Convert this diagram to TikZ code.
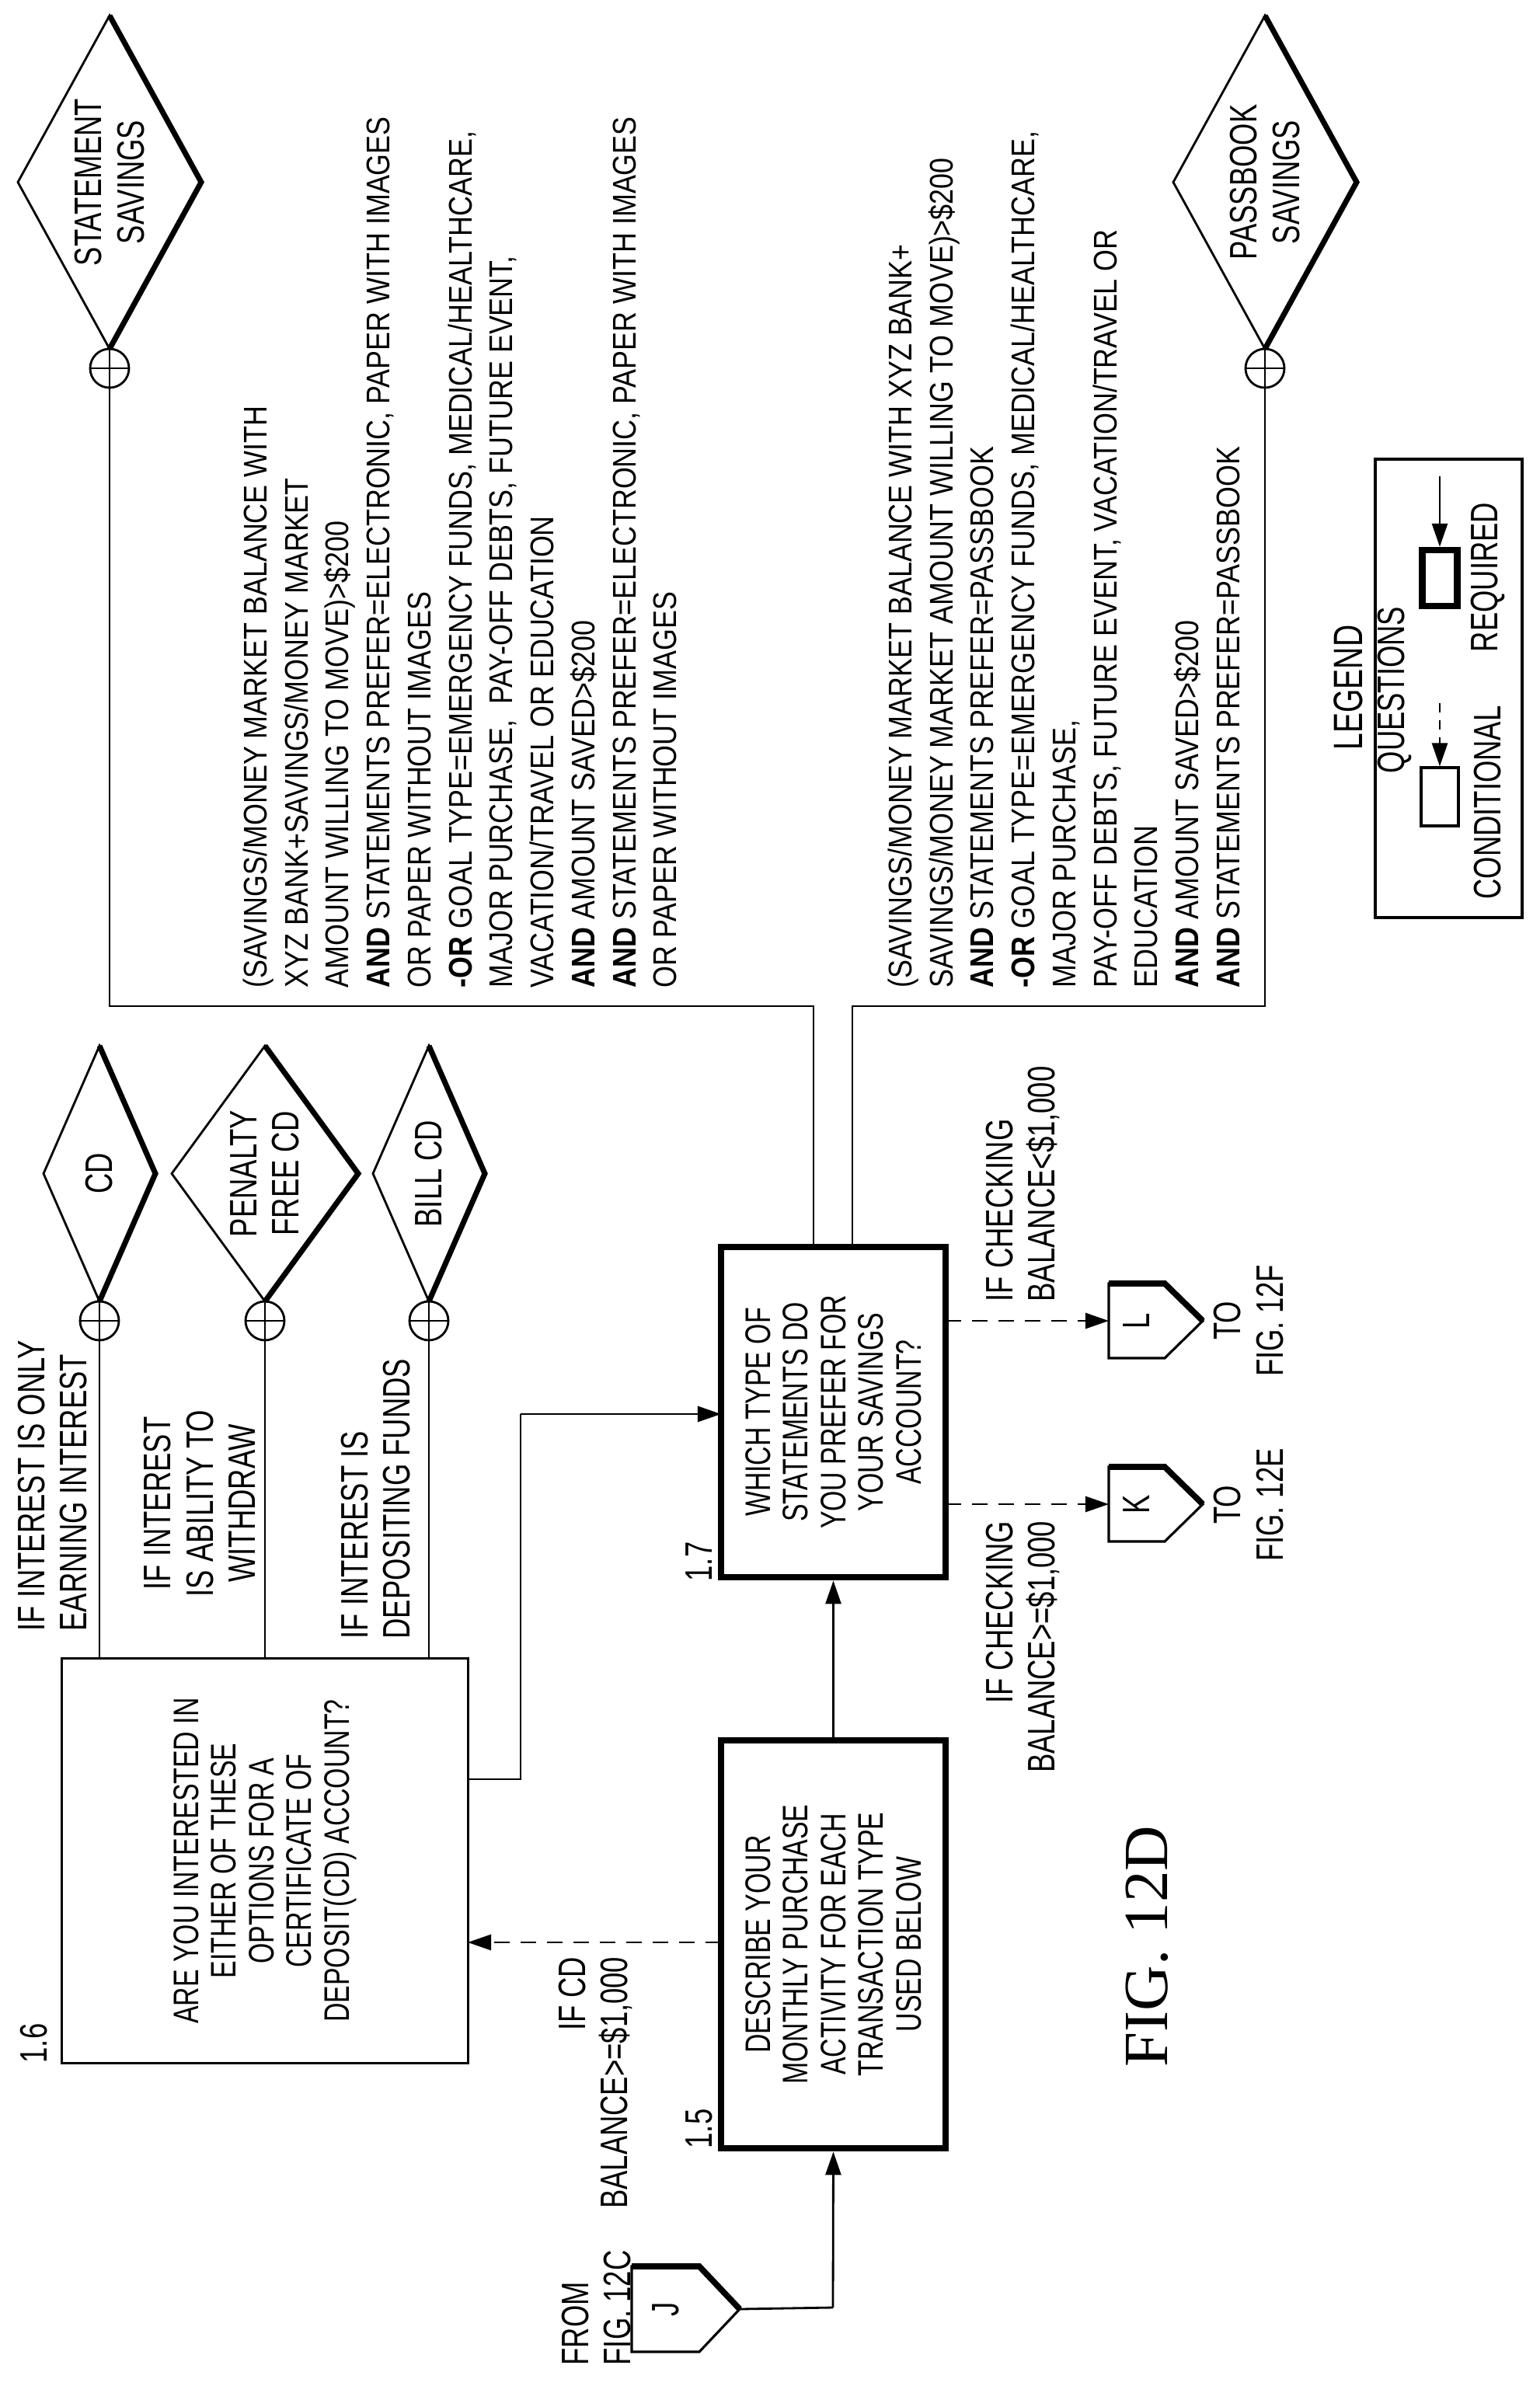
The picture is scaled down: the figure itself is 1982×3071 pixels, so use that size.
\documentclass[tikz,border=0pt]{standalone}
\usepackage{fontspec}
\setmainfont{Liberation Sans}
\newfontfamily\nar{Liberation Sans}[FakeStretch=0.74]
\newfontfamily\regf{Liberation Sans}[FakeStretch=0.85]
\newfontfamily\serf{Liberation Serif}
\usetikzlibrary{arrows.meta,calc}
\newcommand\diam[6]{% name, Xl, Xr, Yc, hh, text
 \draw[line width=0.8pt] (#2,#4) -- ({(#2+#3)/2},{#4+#5}) -- (#3,#4) -- ({(#2+#3)/2},{#4-#5}) -- cycle;
 \draw[line width=2pt,line join=miter] (#2,#4) -- ({(#2+#3)/2},{#4-#5}) -- (#3,#4);
 \node[lbl,align=center] (#1) at ({(#2+#3)/2},#4) {#6};}
\newcommand\offpg[7]{% name, Xc, Ytop, hw, len, sh, letter
 \draw[line width=0.9pt] ({#2-#4},#3) -- ({#2+#4},#3) -- ({#2+#4},{#3-#6}) -- (#2,{#3-#5}) -- ({#2-#4},{#3-#6}) -- cycle;
 \draw[line width=2.2pt] ({#2+#4},#3) -- ({#2+#4},{#3-#6}) -- (#2,{#3-#5});
 \node[lbl] (#1) at (#2,{#3-#6/2}) {#7};
 \coordinate (#1-top) at (#2,#3);
 \coordinate (#1-tip) at (#2,{#3-#5});}
\begin{document}
\begin{tikzpicture}[x=0.01cm,y=0.01cm,
 lbl/.style={font=\nar\fontsize{14}{15.5}\selectfont, inner sep=0pt},
 qbox/.style={draw, line width=0.9pt, align=center, inner sep=0pt, font=\nar\fontsize{13}{13.8}\selectfont},
 rbox/.style={qbox, line width=2.4pt},
 long/.style={font=\regf\fontsize{12}{15}\selectfont, inner sep=0pt, align=left, anchor=north west},
 ln/.style={line width=0.8pt},
 arr/.style={ln, -{Triangle[length=0.3cm,width=0.2cm]}},
 darr/.style={arr, dash pattern=on 0.2cm off 0.14cm},
 xc/.style={circle, draw, line width=0.8pt, minimum size=0.5cm, inner sep=0pt}]
\useasboundingbox (0,0) rectangle (1982,-3071);
\begin{scope}[rotate=90, transform shape]
% question boxes
\node[qbox, minimum width=5.2cm, minimum height=5.22cm] (b16) at (-2395,-341)
 {ARE YOU INTERESTED IN\\EITHER OF THESE\\OPTIONS FOR A\\CERTIFICATE OF\\DEPOSIT(CD) ACCOUNT?};
\node[rbox, minimum width=5.25cm, minimum height=2.89cm] (b15) at (-2502.5,-1072.5)
 {DESCRIBE YOUR\\MONTHLY PURCHASE\\ACTIVITY FOR EACH\\TRANSACTION TYPE\\USED BELOW};
\node[rbox, minimum width=4.25cm, minimum height=2.89cm] (b17) at (-1817.5,-1072.5)
 {WHICH TYPE OF\\STATEMENTS DO\\YOU PREFER FOR\\YOUR SAVINGS\\ACCOUNT?};
\node[lbl] (n16) at (-2630,-44) {1.6};
\node[lbl] (n15) at (-2740,-900) {1.5};
\node[lbl] (n17) at (-2010,-900) {1.7};
% CD branches
\foreach \i/\y in {1/-128,2/-341,3/-552}{
 \coordinate (o\i) at (-2135,\y);
 \node[xc] (c\i) at (-1700,\y) {};
 \draw[ln] (o\i) -- (c\i.west);
 \draw[ln] (c\i.west) -- (c\i.east) (c\i.north) -- (c\i.south);
}
\diam{dcd}{-1675}{-1346}{-128}{72}{CD}
\diam{dpf}{-1675}{-1346}{-341}{120}{PENALTY\\FREE CD}
\diam{dbl}{-1675}{-1346}{-552}{72}{BILL CD}
\node[lbl, align=left, anchor=north west] (t1) at (-2100,-22) {IF INTEREST IS ONLY\\EARNING INTEREST};
\node[lbl, align=center] (t2) at (-1935,-257) {IF INTEREST\\IS ABILITY TO\\WITHDRAW};
\node[lbl, align=left, anchor=north west] (t3) at (-2110,-438) {IF INTEREST IS\\DEPOSITING FUNDS};
% savings outcomes
\node[xc] (cs) at (-474,-141) {};
\node[xc] (cp) at (-474,-1628) {};
\draw[ln] (cs.west) -- (cs.east) (cs.north) -- (cs.south);
\draw[ln] (cp.west) -- (cp.east) (cp.north) -- (cp.south);
\diam{dss}{-449}{-20}{-141}{118}{STATEMENT\\SAVINGS}
\diam{dps}{-449}{-20}{-1628}{118}{PASSBOOK\\SAVINGS}
\coordinate (s1) at (-1295,-141); \coordinate (s2) at (-1295,-1047); \coordinate (s3) at (-1605,-1047);
\coordinate (p1) at (-1295,-1628); \coordinate (p2) at (-1295,-1097); \coordinate (p3) at (-1605,-1097);
\draw[ln] (cs.west) -- (s1) -- (s2) -- (s3);
\draw[ln] (cp.west) -- (p1) -- (p2) -- (p3);
\node[long] (ts) at (-1272,-312) {(SAVINGS/MONEY MARKET BALANCE WITH\\
XYZ BANK+SAVINGS/MONEY MARKET\\
AMOUNT WILLING TO MOVE)>\$200\\
\textbf{AND} STATEMENTS PREFER=ELECTRONIC, PAPER WITH IMAGES\\
OR PAPER WITHOUT IMAGES\\
\textbf{-OR} GOAL TYPE=EMERGENCY FUNDS, MEDICAL/HEALTHCARE,\\
MAJOR PURCHASE,\ \ PAY-OFF DEBTS, FUTURE EVENT,\\
VACATION/TRAVEL OR EDUCATION\\
\textbf{AND} AMOUNT SAVED>\$200\\
\textbf{AND} STATEMENTS PREFER=ELECTRONIC, PAPER WITH IMAGES\\
OR PAPER WITHOUT IMAGES};
\node[long] (tp) at (-1272,-1142) {(SAVINGS/MONEY MARKET BALANCE WITH XYZ BANK+\\
SAVINGS/MONEY MARKET AMOUNT WILLING TO MOVE)>\$200\\
\textbf{AND} STATEMENTS PREFER=PASSBOOK\\
\textbf{-OR} GOAL TYPE=EMERGENCY FUNDS, MEDICAL/HEALTHCARE,\\
MAJOR PURCHASE,\\
PAY-OFF DEBTS, FUTURE EVENT, VACATION/TRAVEL OR\\
EDUCATION\\
\textbf{AND} AMOUNT SAVED>\$200\\
\textbf{AND} STATEMENTS PREFER=PASSBOOK};
% connectors among questions
\coordinate (q1) at (-2290,-602); \coordinate (q2) at (-2290,-670); \coordinate (q3) at (-1820,-670); \coordinate (q4) at (-1820,-928);
\draw[ln] (q1) -- (q2) -- (q3);
\draw[arr] (q3) -- (q4);
\draw[arr] (b15.east) -- (b17.west);
\coordinate (d1) at (-2500,-928); \coordinate (d2) at (-2500,-602);
\draw[darr] (d1) -- (d2);
\node[lbl, align=right, anchor=north east] (tcd) at (-2518,-718) {IF CD\\BALANCE>=\$1,000};
% off page connectors
\offpg{J}{-2972}{-813}{55}{139}{87}{J}
\coordinate (j1) at (-2970,-1072);
\draw[ln] (J-tip) -- (j1);
\draw[arr] (j1) -- (b15.west);
\node[lbl, align=left, anchor=north west] (tfrom) at (-3045,-722) {FROM\\FIG. 12C};
\offpg{L}{-1700}{-1427}{48}{121}{72}{L}
\offpg{K}{-1936}{-1427}{48}{121}{72}{K}
\coordinate (l0) at (-1700,-1217); \coordinate (k0) at (-1936,-1217);
\draw[darr] (l0) -- (L-top);
\draw[darr] (k0) -- (K-top);
\node[lbl, align=left, anchor=north west] (tl) at (-1676,-1268) {IF CHECKING\\BALANCE<\$1,000};
\node[lbl, align=right, anchor=north east] (tk) at (-1957,-1268) {IF CHECKING\\BALANCE>=\$1,000};
\node[lbl, align=center] (fl) at (-1700,-1607) {TO\\FIG. 12F};
\node[lbl, align=center] (fk) at (-1937,-1607) {TO\\FIG. 12E};
% figure title
\node[font=\serf\fontsize{23}{23}\selectfont, inner sep=0pt] (fig) at (-2505,-1476) {FIG. 12D};
% legend
\node[draw, line width=1.2pt, minimum width=5.9cm, minimum height=1.89cm] (leg) at (-886,-1864.5) {};
\node[lbl, font=\nar\fontsize{15}{16}\selectfont] (legt) at (-885,-1735) {LEGEND};
\node[lbl] (legq) at (-888,-1795) {QUESTIONS};
\node[draw, line width=0.9pt, minimum width=0.75cm, minimum height=0.48cm, inner sep=0pt] (lc) at (-1025.5,-1853) {};
\node[draw, line width=2.4pt, minimum width=0.72cm, minimum height=0.45cm, inner sep=0pt] (lr) at (-744,-1853) {};
\coordinate (la) at (-905,-1853); \coordinate (lb) at (-613,-1853);
\draw[arr, dash pattern=on 0.12cm off 0.1cm] (la) -- (lc.east);
\draw[arr] (lb) -- (lr.east);
\node[lbl] (lct) at (-1033,-1915) {CONDITIONAL};
\node[lbl] (lrt) at (-743,-1915) {REQUIRED};
\end{scope}
\end{tikzpicture}
\end{document}
